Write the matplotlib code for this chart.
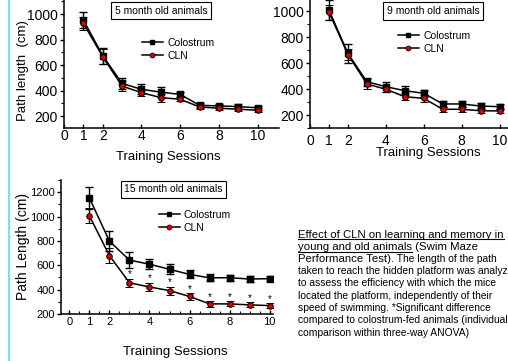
import numpy as np
import matplotlib.pyplot as plt
from matplotlib.lines import Line2D
from matplotlib.ticker import MultipleLocator

plt.rcParams['font.family'] = ['Liberation Sans', 'DejaVu Sans']

sessions = np.arange(1, 11)
xticks = [0, 1, 2, 4, 6, 8, 10]

# 5 month old animals
col5 = [953, 674, 456, 410, 388, 370, 285, 280, 275, 265]
col5_err = [65, 62, 45, 38, 38, 22, 18, 18, 18, 18]
cln5 = [928, 665, 435, 384, 345, 332, 272, 262, 254, 246]
cln5_err = [50, 60, 38, 28, 32, 16, 15, 15, 15, 15]

# 9 month old animals
col9 = [1008, 674, 456, 418, 387, 367, 285, 285, 269, 264]
col9_err = [75, 75, 30, 38, 35, 25, 20, 20, 20, 20]
cln9 = [992, 665, 439, 398, 341, 328, 244, 244, 233, 231]
cln9_err = [58, 42, 40, 20, 28, 25, 20, 18, 18, 18]

# 15 month old animals
col15 = [1152, 798, 642, 609, 567, 525, 497, 498, 487, 490]
col15_err = [90, 80, 65, 42, 42, 33, 28, 24, 24, 22]
cln15 = [1005, 679, 456, 422, 392, 344, 283, 283, 275, 269]
cln15_err = [62, 60, 34, 36, 33, 25, 22, 20, 20, 20]
signif = [3, 4, 5, 6, 7, 8, 9, 10]

W, H = 508, 361
def fx(x): return x / W
def fy(y): return 1 - y / H
def box(l, t, r, b): return [fx(l), fy(b), (r - l) / W, (b - t) / H]

fig = plt.figure(figsize=(W / 100, H / 100), dpi=100)

def panel(rect, col, col_err, cln, cln_err, xlim, ylim, tsize, xpad):
    ax = fig.add_axes(rect)
    ax.errorbar(sessions, col, yerr=col_err, fmt='-s', color='black', ms=4,
                lw=1.1, elinewidth=1, capsize=3, capthick=1)
    ax.errorbar(sessions, cln, yerr=cln_err, fmt='-o', color='black', ms=4,
                mfc='#e00000', mec='black', mew=0.7, lw=1.1, elinewidth=1,
                capsize=3, capthick=1)
    ax.set_xticks(xticks)
    ax.set_yticks([200, 400, 600, 800, 1000, 1200])
    ax.yaxis.set_minor_locator(MultipleLocator(100))
    ax.set_xlim(*xlim)
    ax.set_ylim(*ylim)
    for s in ['top', 'right']:
        ax.spines[s].set_visible(False)
    for s in ['left', 'bottom']:
        ax.spines[s].set_linewidth(1.1)
    ax.tick_params(axis='y', which='major', labelsize=tsize, length=3, width=1, pad=1.5)
    ax.tick_params(axis='x', which='major', labelsize=tsize, length=3, width=1,
                   direction='in', pad=xpad)
    ax.tick_params(axis='y', which='minor', length=2, width=0.8)
    ax.tick_params(axis='x', which='minor', length=2, width=0.8, direction='in')
    ax.patch.set_alpha(0)
    return ax

def legend(ax, x, y):
    h = [Line2D([], [], color='black', marker='s', ms=3.5, lw=1.1),
         Line2D([], [], color='black', marker='o', ms=3.5, mfc='#e00000', mec='black', mew=0.6, lw=1.1)]
    ax.legend(h, ['Colostrum', 'CLN'], loc='upper left', bbox_to_anchor=(fx(x), fy(y)),
              bbox_transform=fig.transFigure, frameon=False, fontsize=7.5,
              handlelength=2.0, handletextpad=0.4, labelspacing=0.3, borderpad=0,
              borderaxespad=0)

def title(x, y, s):
    fig.text(fx(x), fy(y), s, ha='center', va='center', fontsize=7.5,
             bbox=dict(boxstyle='square,pad=0.35', fc='white', ec='black', lw=0.8))

# panel 1
ax1 = panel(box(64, 0, 279, 128), col5, col5_err, cln5, cln5_err, (0, 11.1), (107, 1110), 10, 1)
legend(ax1, 142, 38)
title(161, 10.5, '5 month old animals')
fig.text(fx(168), fy(157.5), 'Training Sessions', ha='center', va='center', fontsize=9.5)
fig.text(fx(23), fy(71), 'Path length  (cm)', ha='center', va='center', rotation=90, fontsize=9.5)

# panel 2
ax2 = panel(box(310, 0, 511, 128), col9, col9_err, cln9, cln9_err, (0, 10.6), (100, 1085), 10, 4)
legend(ax2, 398, 31)
title(433, 11, '9 month old animals')
fig.text(fx(428), fy(153), 'Training Sessions', ha='center', va='center', fontsize=9.5)

# panel 3
ax3 = panel(box(61, 180, 273, 314), col15, col15_err, cln15, cln15_err, (-0.42, 10.17), (200, 1300), 8, 2)
ax3.xaxis.set_minor_locator(MultipleLocator(0.5))
legend(ax3, 159, 210)
title(173.5, 189.5, '15 month old animals')
fig.text(fx(175), fy(352), 'Training Sessions', ha='center', va='center', fontsize=9.5)
fig.text(fx(23), fy(246), 'Path Length (cm)', ha='center', va='center', rotation=90, fontsize=10)
for s in signif:
    i = s - 1
    ax3.text(s, cln15[i] + cln15_err[i] - 5, '*', ha='center', va='bottom', fontsize=7)

# cyan page border
fig.add_artist(Line2D([fx(9), fx(9)], [0, 1], color='#70e4f0', lw=1.5))

# caption
fig.canvas.draw()
rend = fig.canvas.get_renderer()

def put(x, base, s, size, underline=False):
    t = fig.text(x / W, fy(base), s, fontsize=size, ha='left', va='baseline')
    bb = t.get_window_extent(rend)
    if underline:
        fig.add_artist(Line2D([bb.x0 / W, bb.x1 / W], [fy(base + 1.8)] * 2, color='black', lw=0.8))
    return bb.x1

big, small = 8.2, 7.4
x0 = 298
put(x0, 237.5, 'Effect of CLN on learning and memory in', big, True)
xe = put(x0, 249.9, 'young and old animals', big, True)
put(xe, 249.9, ' (Swim Maze', big)
xe = put(x0, 262.3, 'Performance Test).', big)
put(xe, 262.3, ' The length of the path', small)
rest = ['taken to reach the hidden platform was analyzed',
        'to assess the efficiency with which the mice',
        'located the platform, independently of their',
        'speed of swimming. *Significant difference',
        'compared to colostrum-fed animals (individual',
        'comparison within three-way ANOVA)']
for k, line in enumerate(rest):
    put(x0, 274 + 12.3 * k, line, small)

fig.savefig('out.png', dpi=100)
